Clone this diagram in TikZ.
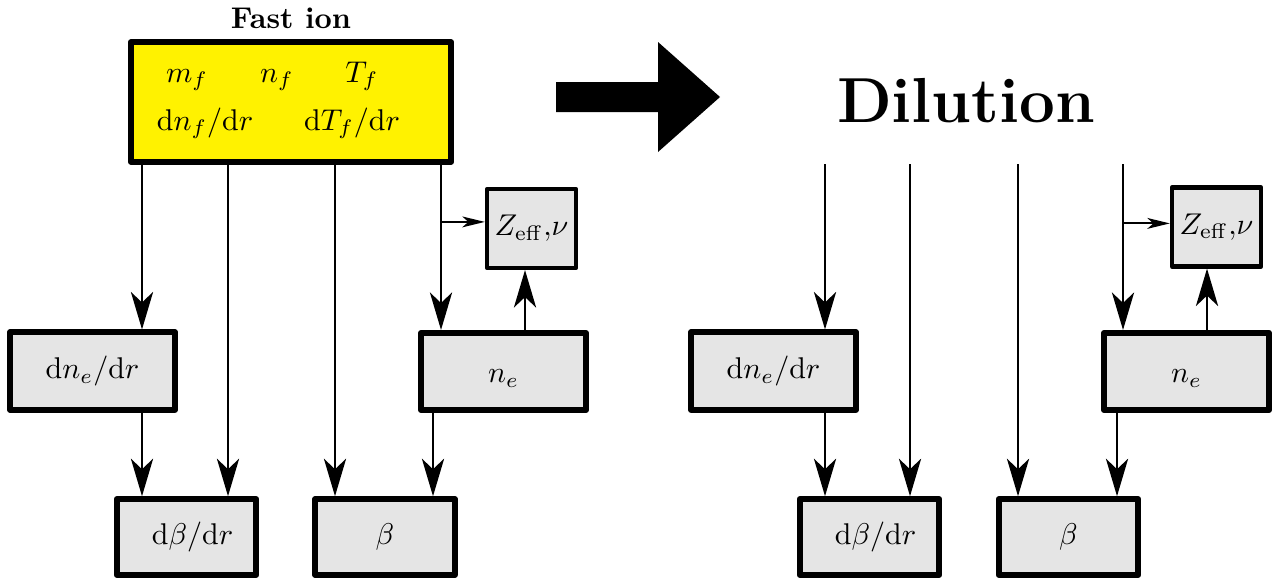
\documentclass[tikz,border=0pt]{standalone}
\usetikzlibrary{arrows.meta, positioning}
\tikzset{
    source/.style={rectangle, draw, line width=1.9pt, line join=round, fill=yellow, minimum width=106.7pt, minimum height=40pt},
    quantity/.style={rectangle, draw, line width=1.9pt, line join=round, fill=gray!20, minimum width=55pt, minimum height=25.8pt, inner sep=2pt},
    quantity_small/.style={quantity, minimum width=46.5pt, minimum height=25.3pt},
    z_box/.style={quantity, line width=1.4pt, minimum width=29.7pt, minimum height=26.3pt},
    flow/.style={line width=0.7pt, -{Stealth[length=12.5pt, width=7.4pt, inset=3.5pt]}},
    flow_thin/.style={line width=0.7pt, -{Stealth[length=7.5pt, width=3.6pt, inset=2pt]}}
}
\begin{document}
\begin{tikzpicture}[x=0.3333pt, y=-0.3333pt]
    \useasboundingbox (0,0) rectangle (1274,579);

    % Fast ion block (left)
    \node[source] (fi) at (291,102) {};
    \node[font=\bfseries, above=0pt of fi] (fi_title) {Fast ion};
    \node[anchor=base] (mf) at (187,82) {$m_f$};
    \node[anchor=base] (nf) at (277,82) {$n_f$};
    \node[anchor=base] (Tf) at (362,82) {$T_f$};
    \node[anchor=base] (dnf) at (205,130) {$\mathrm{d}n_f/\mathrm{d}r$};
    \node[anchor=base] (dTf) at (352,130) {$\mathrm{d}T_f/\mathrm{d}r$};

    % Quantities (left)
    \node[quantity] (dne) at (92.5,371) {$\mathrm{d}n_e/\mathrm{d}r$};
    \node[quantity, text height=9pt] (ne) at (503.5,371.5) {$n_e$};
    \node[z_box] (zef) at (531.5,228.5) {$Z_{\mathrm{eff}}{,}\nu$};
    \node[quantity_small] (dbeta) at (186.5,537) {\hspace{4pt}$\mathrm{d}\beta/\mathrm{d}r$};
    \node[quantity_small] (beta) at (385,537) {$\beta$\hspace{6.6pt}};

    % Columns (left)
    \coordinate (c1) at (142,0);
    \coordinate (c2) at (228,0);
    \coordinate (c3) at (335,0);
    \coordinate (c4) at (441,0);
    \coordinate (c5) at (433,0);
    \coordinate (c6) at (525,0);

    % Arrows (left)
    \draw[flow] (fi.south -| c1) -- (dne.north -| c1);
    \draw[flow] (dne.south -| c1) -- (dbeta.north -| c1);
    \draw[flow] (fi.south -| c2) -- (dbeta.north -| c2);
    \draw[flow] (fi.south -| c3) -- (beta.north -| c3);
    \draw[flow] (fi.south -| c4) -- (ne.north -| c4);
    \draw[flow] (ne.south -| c5) -- (beta.north -| c5);
    \draw[flow] (ne.north -| c6) -- (zef.south -| c6);
    \coordinate (zin) at ([yshift=2.2pt]zef.west);
    \draw[flow_thin] (zin -| c4) -- (zin);

    % Big arrow and title (right)
    \fill (556,82) -- (658,82) -- (658,42) -- (720,97) -- (658,152) -- (658,112) -- (556,112) -- cycle;
    \node[font=\fontsize{21.2}{26}\selectfont\bfseries, anchor=base] (dil) at (966,122) {Dilution};

    % Quantities (right)
    \node[quantity] (dne2) at (773.5,371) {$\mathrm{d}n_e/\mathrm{d}r$};
    \node[quantity, text height=9pt] (ne2) at (1186.5,371.5) {$n_e$};
    \node[z_box] (zef2) at (1216.5,227) {$Z_{\mathrm{eff}}{,}\nu$};
    \node[quantity_small] (dbeta2) at (869.5,537) {\hspace{4pt}$\mathrm{d}\beta/\mathrm{d}r$};
    \node[quantity_small] (beta2) at (1068.5,537) {$\beta$\hspace{6.6pt}};

    % Columns (right)
    \coordinate (top) at (0,164);
    \coordinate (d1) at (825,0);
    \coordinate (d2) at (910,0);
    \coordinate (d3) at (1018,0);
    \coordinate (d4) at (1123,0);
    \coordinate (d5) at (1117,0);
    \coordinate (d6) at (1207,0);

    % Arrows (right)
    \draw[flow] (top -| d1) -- (dne2.north -| d1);
    \draw[flow] (dne2.south -| d1) -- (dbeta2.north -| d1);
    \draw[flow] (top -| d2) -- (dbeta2.north -| d2);
    \draw[flow] (top -| d3) -- (beta2.north -| d3);
    \draw[flow] (top -| d4) -- (ne2.north -| d4);
    \draw[flow] (ne2.south -| d5) -- (beta2.north -| d5);
    \draw[flow] (ne2.north -| d6) -- (zef2.south -| d6);
    \coordinate (zin2) at ([yshift=1.2pt]zef2.west);
    \draw[flow_thin] (zin2 -| d4) -- (zin2);

\end{tikzpicture}
\end{document}
